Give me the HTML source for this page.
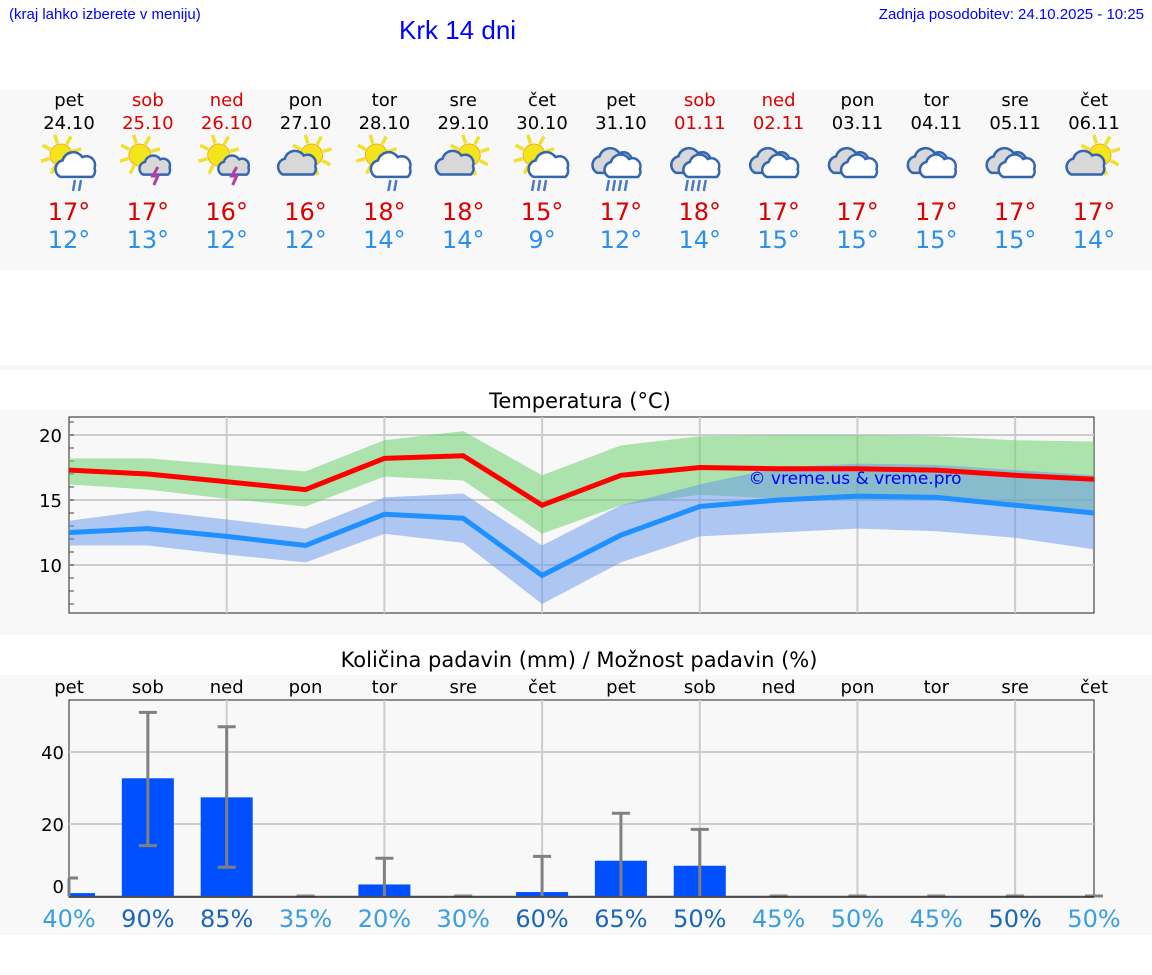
<!DOCTYPE html>
<html><head><meta charset="utf-8"><style>
body{margin:0;width:1152px;height:975px;background:#fff;font-family:"DejaVu Sans","Liberation Sans",sans-serif;position:relative;overflow:hidden}
.a{position:absolute}
</style></head><body>
<div class="a" style="left:9px;top:6px;font-size:15px;color:#00f;font-family:'Liberation Sans',sans-serif">(kraj lahko izberete v meniju)</div>
<div class="a" style="left:399px;top:15px;font-size:26px;color:#00f;font-family:'Liberation Sans',sans-serif">Krk 14 dni</div>
<div class="a" style="right:8px;top:6px;font-size:15px;color:#00f;font-family:'Liberation Sans',sans-serif">Zadnja posodobitev: 24.10.2025 - 10:25</div>
<div class="a" style="left:0;top:90px;width:1152px;height:180px;background:#f8f8f8"></div>
<div class="a" style="left:0;top:365px;width:1152px;height:5px;background:#f8f8f8"></div>
<div class="a" style="left:0;top:410px;width:1152px;height:225px;background:#f8f8f8"></div>
<div class="a" style="left:0;top:675px;width:1152px;height:260px;background:#f8f8f8"></div>
<svg class="a" style="left:0;top:0" width="1152" height="975" id="svg"></svg>
<script>
const days=["pet","sob","ned","pon","tor","sre","čet","pet","sob","ned","pon","tor","sre","čet"];
const dates=["24.10","25.10","26.10","27.10","28.10","29.10","30.10","31.10","01.11","02.11","03.11","04.11","05.11","06.11"];
const weekend=[0,1,1,0,0,0,0,0,1,1,0,0,0,0];
const icons=["sunrain","sunstorm","sunstorm","suncloud","sunrain","suncloud","sunrain2","rain","rain","cloud","cloud","cloud","cloud","suncloud"];
const tmax=[17.3,17.0,16.4,15.8,18.2,18.4,14.6,16.9,17.5,17.4,17.4,17.3,16.9,16.6];
const tmaxHi=[18.2,18.2,17.7,17.2,19.6,20.3,16.9,19.2,19.9,20.0,20.0,19.9,19.6,19.5];
const tmaxLo=[16.2,15.8,15.1,14.5,16.8,16.5,12.4,14.6,15.4,15.1,15.0,15.0,14.6,14.2];
const tmin=[12.5,12.8,12.2,11.5,13.9,13.6,9.2,12.3,14.5,15.0,15.3,15.2,14.6,14.0];
const tminHi=[13.4,14.2,13.5,12.8,15.2,15.5,11.5,14.6,16.2,17.5,17.8,17.7,17.3,16.9];
const tminLo=[11.5,11.5,10.8,10.2,12.4,11.7,7.0,10.2,12.2,12.5,12.8,12.6,12.1,11.2];
const dayMax=["17°","17°","16°","16°","18°","18°","15°","17°","18°","17°","17°","17°","17°","17°"];
const dayMin=["12°","13°","12°","12°","14°","14°","9°","12°","14°","15°","15°","15°","15°","14°"];
const precip=[0.8,32.7,27.4,0,3.2,0,1.1,9.8,8.4,0,0,0,0,0];
const precipHi=[5,51,47,0,10.5,0,11,23,18.5,0,0,0,0,0];
const precipLo=[0,14,8,0,0,0,0,0,0,0,0,0,0,0];
const prob=[40,90,85,35,20,30,60,65,50,45,50,45,50,50];
const probDark=[0,1,1,0,0,0,1,1,1,0,0,0,1,0];
const tempTicks=[10,15,20];
const precipTicks=[0,20,40];

const svg=document.getElementById('svg');const NS="http://www.w3.org/2000/svg";
function el(t,a,p){const e=document.createElementNS(NS,t);for(const k in a)e.setAttribute(k,a[k]);(p||svg).appendChild(e);return e;}
const X0=69,X1=1094,xs=i=>X0+i*(X1-X0)/13;
const ty=v=>435+(20-v)*13, py=v=>896-v*3.6;
function txt(x,y,s,size,fill,anchor,name){const t=el('text',{x:x,y:y,'font-size':size,fill:fill,'text-anchor':anchor||'middle','font-family':'DejaVu Sans, Liberation Sans, sans-serif'});t.textContent=s;return t;}
function sun(g,cx,cy){for(let k=0;k<8;k++){const a=k*Math.PI/4-0.3;el('line',{x1:cx+Math.cos(a)*12,y1:cy+Math.sin(a)*12,x2:cx+Math.cos(a)*21,y2:cy+Math.sin(a)*21,stroke:'#f0e030','stroke-width':3.5},g);}el('circle',{cx:cx,cy:cy,r:11,fill:'#f4e41c',stroke:'#f0b020','stroke-width':1},g);}
function cloud(g,cx,cy,s,fill){el('path',{d:`M${cx-16*s},${cy+9*s} a${8*s},${8*s} 0 0 1 ${2*s},${-15*s} a${10*s},${10*s} 0 0 1 ${18*s},${-3*s} a${8*s},${8*s} 0 0 1 ${11*s},${10*s} a${7*s},${7*s} 0 0 1 ${-2*s},${8*s} z`,fill:fill,stroke:'#3366b0','stroke-width':2.5},g);}
function rainDrops(g,cx,cy,n){for(let k=0;k<n;k++)el('line',{x1:cx+k*6,y1:cy,x2:cx+k*6-2,y2:cy+11,stroke:'#4a7ac0','stroke-width':2.5},g);}
for(let i=0;i<14;i++){const x=xs(i);
 txt(x,106,days[i],18,weekend[i]?'#d00':'#000','middle','day-name');
 txt(x,129,dates[i],18,weekend[i]?'#d00':'#000','middle','day-date');
 const g=el('g',{});
 const ic=icons[i];
 if(ic.startsWith('sun')){if(ic==='suncloud'){sun(g,x+6,155);cloud(g,x-6,165,1.05,'#d8d8d8');}else{sun(g,x-8,155);cloud(g,x+9,167,ic==='sunstorm'?0.85:1.1,ic==='sunstorm'?'#d8d8d8':'#fff');}
  if(ic==='sunstorm')el('path',{d:`M${x+10},167 l-5,9 h5 l-4,9`,fill:'none',stroke:'#b040a0','stroke-width':3},g);
  if(ic==='sunrain'||ic==='sunrain2')rainDrops(g,x+(ic==='sunrain'?6:-8),180,ic==='sunrain'?2:3);}
 else{cloud(g,x-6,163,1.1,'#d8d8d8');cloud(g,x+4,168,1.0,'#fff');if(ic==='rain')rainDrops(g,x-12,180,4);}
 txt(x,220,dayMax[i],24,'#d00','middle','max-temp');
 txt(x,248,dayMin[i],24,'#2a90f0','middle','min-temp');
}
txt(580,408,'Temperatura (°C)',21,'#000','middle','temp-chart-title');
el('rect',{x:69,y:417,width:1025,height:196,fill:'#f8f8f8',stroke:'#222','stroke-width':1});
for(const v of tempTicks){el('line',{x1:69,x2:1094,y1:ty(v),y2:ty(v),stroke:'#ccc','stroke-width':2});txt(62,ty(v)+7,String(v),18,'#000','end','temp-tick');}
for(let v=7;v<=21;v++)el('line',{x1:69,x2:74,y1:ty(v),y2:ty(v),stroke:'#444'});
for(let i=2;i<14;i+=2)el('line',{x1:xs(i),x2:xs(i),y1:417,y2:613,stroke:'#ccc','stroke-width':2});
function band(hi,lo,fill,name){let d='M';hi.forEach((v,i)=>d+=`${xs(i)},${ty(v)} L`);for(let i=lo.length-1;i>=0;i--)d+=`${xs(i)},${ty(lo[i])} ${i?'L':'Z'}`;const p=el('path',{d:d,fill:fill});}
function line(arr,c,name){const p=el('polyline',{points:arr.map((v,i)=>xs(i)+','+ty(v)).join(' '),fill:'none',stroke:c,'stroke-width':5,'stroke-linejoin':'miter'});}
band(tmaxHi,tmaxLo,'rgba(110,210,110,0.55)','max-temp-band');
band(tminHi,tminLo,'rgba(100,150,235,0.5)','min-temp-band');
line(tmin,'#1e90ff','min-temp-line');line(tmax,'#ff0000','max-temp-line');
txt(855,484,'© vreme.us & vreme.pro',17,'#00f','middle','watermark');
txt(579,667,'Količina padavin (mm) / Možnost padavin (%)',21,'#000','middle','precip-chart-title');
el('rect',{x:69,y:700,width:1025,height:197,fill:'#f8f8f8',stroke:'#222','stroke-width':1});
for(const v of precipTicks){el('line',{x1:69,x2:1094,y1:py(v),y2:py(v),stroke:'#ccc','stroke-width':2});txt(64,py(v)+(v===0?-3:7),String(v),18,'#000','end','precip-tick');}
for(let i=2;i<14;i+=2)el('line',{x1:xs(i),x2:xs(i),y1:700,y2:897,stroke:'#ccc','stroke-width':2});
for(let i=0;i<14;i++){const x=xs(i);
 txt(x,693,days[i],18,'#000','middle','precip-day');
 if(precip[i]>0){const bx=Math.max(69,x-26),bw=x+26-bx;const r=el('rect',{x:bx,y:py(precip[i]),width:bw,height:precip[i]*3.6,fill:'#0050ff'});}
 const eg=el('g',{stroke:'#808080','stroke-width':3});
 el('line',{x1:x,x2:x,y1:py(precipHi[i]),y2:py(precipLo[i])},eg);
 el('line',{x1:Math.max(69,x-9),x2:x+9,y1:py(precipHi[i]),y2:py(precipHi[i])},eg);
 if(precipLo[i]>0)el('line',{x1:Math.max(69,x-9),x2:x+9,y1:py(precipLo[i]),y2:py(precipLo[i])},eg);
 txt(x,927,prob[i]+'%',24,probDark[i]?'#1a66b8':'#3a9ee0','middle','precip-probability');
}
el('line',{x1:69,x2:1094,y1:897,y2:897,stroke:'#222','stroke-width':1.5});
</script>
</body></html>
